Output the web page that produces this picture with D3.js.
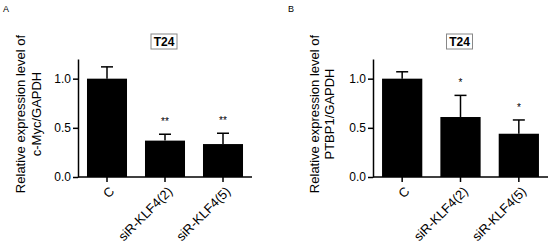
<!DOCTYPE html>
<html><head><meta charset="utf-8">
<script src="https://cdn.jsdelivr.net/npm/d3@7"></script>
<style>body{margin:0;background:#fff}svg{display:block}text{font-family:"Liberation Sans",Arial,sans-serif}</style>
</head><body>
<svg id="c" width="550" height="243"></svg>
<script>
const categories = ["C", "siR-KLF4(2)", "siR-KLF4(5)"];
const mycValues = [1.0, 0.37, 0.335];
const mycErrors = [0.12, 0.065, 0.11];
const mycSig = ["", "**", "**"];
const ptbValues = [1.0, 0.61, 0.44];
const ptbErrors = [0.07, 0.22, 0.14];
const ptbSig = ["", "*", "*"];
const yTicks = [0.0, 0.5, 1.0];
const panels = [
  {letter:"A", lx:3, ax:78, ax2:252, yl1:25, yl2:41, label2:"c-Myc/GAPDH", values:mycValues, errors:mycErrors, sig:mycSig},
  {letter:"B", lx:288, ax:373, ax2:548, yl1:319, yl2:334, label2:"PTBP1/GAPDH", values:ptbValues, errors:ptbErrors, sig:ptbSig}
];
const svg = d3.select("#c");
const y = d3.scaleLinear().domain([0,1.2]).range([177,59]);
panels.forEach(p => {
  const g = svg.append("g");
  g.append("text").attr("x",p.lx).attr("y",12).attr("font-size",9).text(p.letter);
  const x = d3.scaleBand().domain(categories).range([p.ax,p.ax2]).paddingInner(0.31).paddingOuter(0.155);
  const data = categories.map((c,i)=>({c, v:p.values[i], e:p.errors[i], s:p.sig[i]}));
  data.forEach(d=>{
    const cx = x(d.c)+x.bandwidth()/2;
    g.append("line").attr("x1",cx).attr("x2",cx).attr("y1",y(d.v)).attr("y2",y(d.v+d.e)).attr("stroke","#000").attr("stroke-width",1.5);
    g.append("line").attr("x1",cx-6).attr("x2",cx+6).attr("y1",y(d.v+d.e)).attr("y2",y(d.v+d.e)).attr("stroke","#000").attr("stroke-width",1.5);
    if(d.s) g.append("text").attr("x",cx).attr("y",y(d.v+d.e)-9).attr("text-anchor","middle").attr("font-size",10).attr("fill","#000").text(d.s);
  });
  g.selectAll("rect").data(data).join("rect")
    .attr("x",d=>x(d.c)).attr("width",x.bandwidth())
    .attr("y",d=>y(d.v)).attr("height",d=>y(0)-y(d.v)).attr("fill","#000");
  const ya = g.append("g").attr("transform",`translate(${p.ax},0)`)
    .call(d3.axisLeft(y).tickValues(yTicks).tickFormat(d3.format(".1f")).tickSize(5).tickSizeOuter(0));
  ya.select(".domain").attr("stroke-width",1.5);
  ya.selectAll(".tick line").attr("stroke-width",1.5);
  ya.selectAll(".tick text").attr("font-size",12).attr("font-family","Liberation Sans, Arial, sans-serif").attr("x",-7).attr("fill","#000");
  const xa = g.append("g").attr("transform",`translate(0,${y(0)})`)
    .call(d3.axisBottom(x).tickSize(5).tickSizeOuter(0));
  xa.select(".domain").attr("stroke-width",1.5).attr("d",`M${p.ax},0H${p.ax2}`);
  xa.selectAll(".tick line").attr("stroke-width",1.5);
  xa.selectAll(".tick text").attr("font-size",13).attr("font-family","Liberation Sans, Arial, sans-serif").attr("fill","#000")
    .attr("text-anchor","end").attr("dy","0.35em").attr("transform","translate(5,12) rotate(-45)").attr("y",0).attr("x",0);
  const my = 114;
  g.append("text").attr("transform",`translate(${p.yl1},${my}) rotate(-90)`).attr("text-anchor","middle").attr("font-size",13).text("Relative expression level of");
  g.append("text").attr("transform",`translate(${p.yl2},${my}) rotate(-90)`).attr("text-anchor","middle").attr("font-size",13).text(p.label2);
  const tx = (p.ax+p.ax2)/2 - 1;
  g.append("rect").attr("x",tx-13).attr("y",34).attr("width",26).attr("height",15).attr("fill","#fff").attr("stroke","#888").attr("stroke-width",1);
  g.append("text").attr("x",tx).attr("y",46).attr("text-anchor","middle").attr("font-size",12).attr("font-weight","bold").text("T24");
});
</script>
</body></html>
